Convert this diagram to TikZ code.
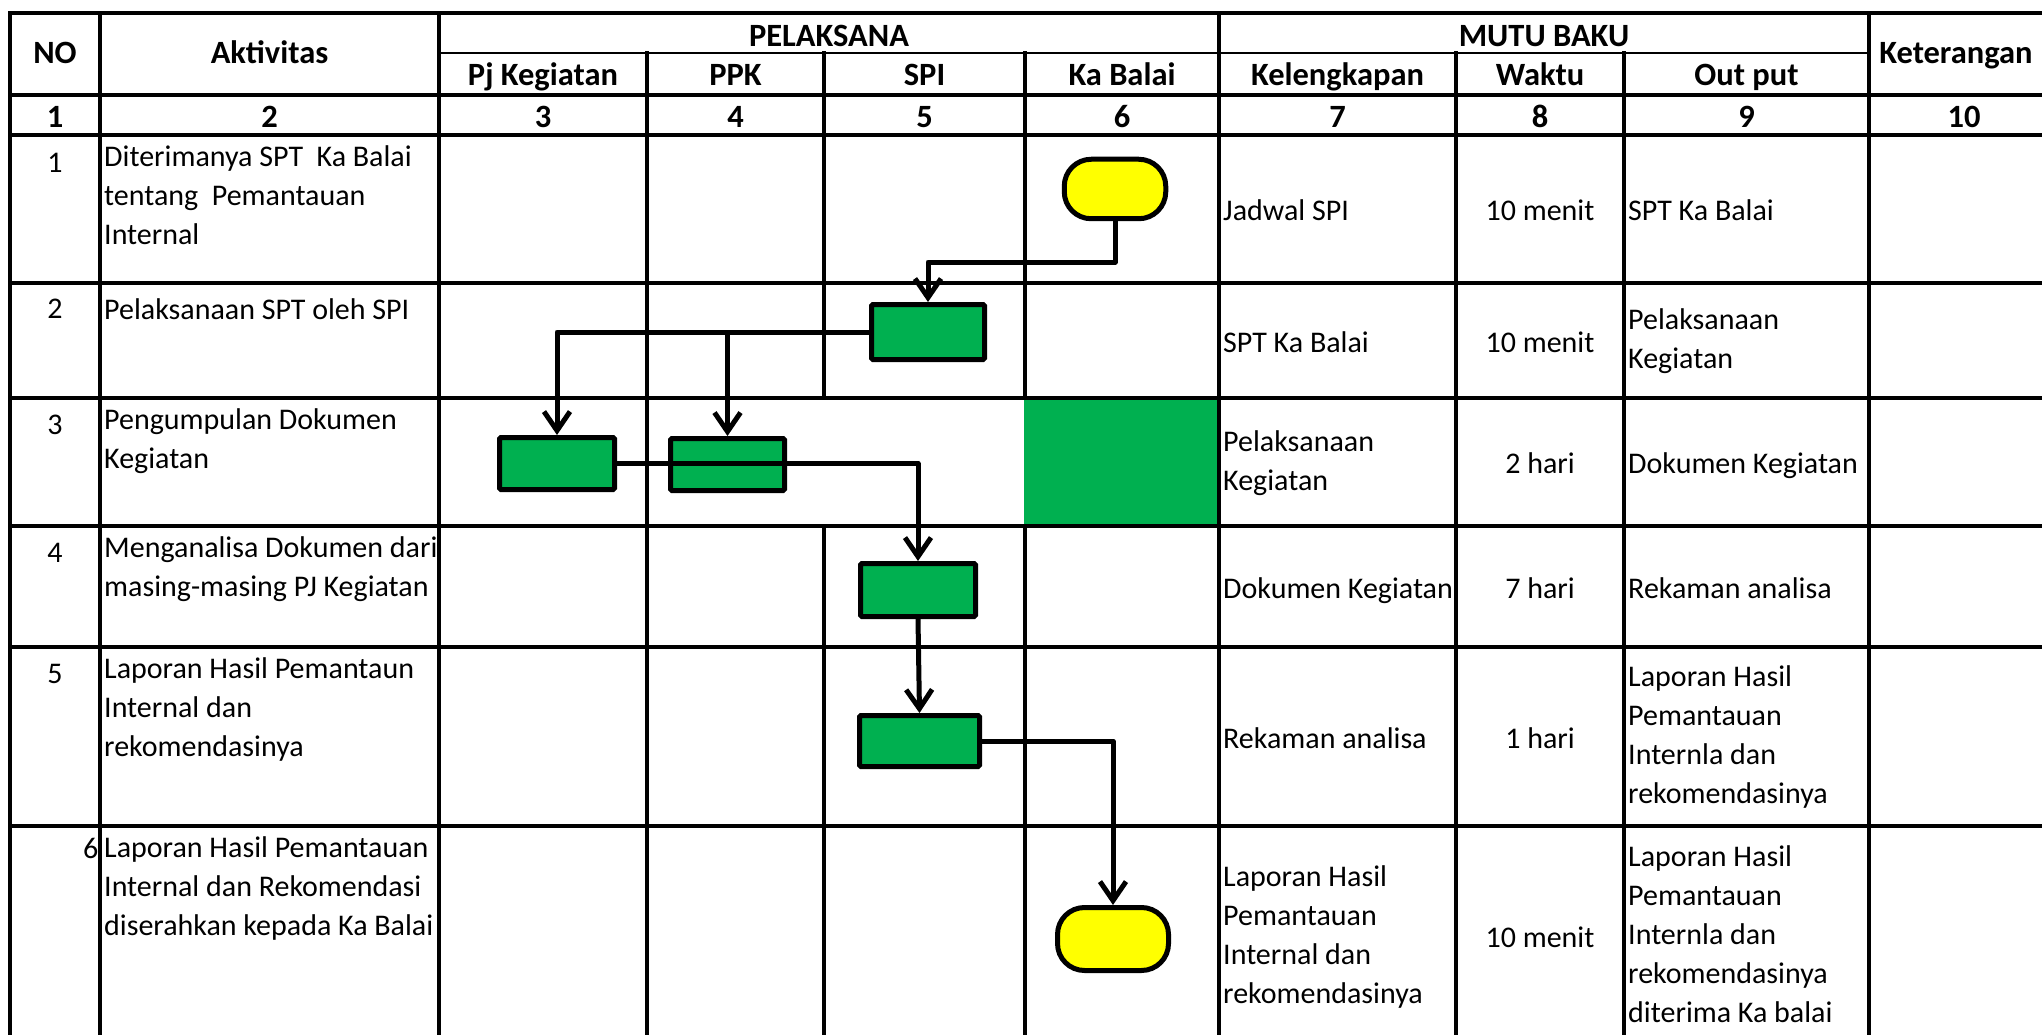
\documentclass[tikz,border=0pt]{standalone}
\usepackage{fontspec}
\setmainfont{Carlito}
\usetikzlibrary{arrows.meta}
\definecolor{xgreen}{HTML}{00B050}
\definecolor{xyellow}{HTML}{FFFF00}
\begin{document}
\begin{tikzpicture}[x=1pt,y=-1pt,
  celltxt/.style={inner sep=0pt, font=\fontsize{30}{39}\selectfont,
    execute at begin node=\strut, execute at end node=\strut},
  headtxt/.style={celltxt, font=\fontsize{32.5}{39}\selectfont\bfseries, anchor=center, align=center},
  celltop/.style={celltxt, anchor=north west, align=left},
  cellmid/.style={celltxt, anchor=west, align=left},
  cellctr/.style={celltxt, anchor=center, align=center},
  gridh/.style={line width=3.5pt, line cap=rect},
  gridv/.style={line width=3.2pt, line cap=rect},
  gbox/.style={draw, fill=xgreen, line width=5pt, rounded corners=1.5pt, inner sep=0pt},
  termbox/.style={draw, fill=xyellow, line width=5pt, rounded corners=27pt, inner sep=0pt},
  flowconn/.style={line width=5pt, line join=round, -{Straight Barb[length=19pt,width=26pt]}}
]
\useasboundingbox (0,0) rectangle (2042,1035);
\clip (0,0) rectangle (2042,1035);
\fill[white] (0,0) rectangle (2042,1035);
% green cell
\fill[xgreen] (1024,398) rectangle (1219,526);
% horizontal lines
\draw[gridh, line width=3.9pt] (10,13) -- (2060,13);
\draw[line width=2.4pt] (439,53) -- (1869,53);
\foreach \y in {95,135,283,398,526,647,826,1046}
  \draw[gridh] (10,\y) -- (2060,\y);
% vertical lines, full height
\draw[gridv, line width=3.8pt] (10,13) -- (10,1046);
\foreach \x in {100,439,1219,1869}
  \draw[gridv] (\x,13) -- (\x,1046);
% vertical lines below sub-header
\foreach \x in {647,1456,1624}
  \draw[gridv] (\x,53) -- (\x,1046);
\foreach \x in {824,1025}{
  \draw[gridv] (\x,53) -- (\x,398);
  \draw[gridv] (\x,526) -- (\x,1046);
}
% header texts
\node[headtxt] (hno) at (55,56) {NO};
\node[headtxt] (hakt) at (269.5,56) {Aktivitas};
\node[headtxt] (hpel) at (829,38.5) {PELAKSANA};
\node[headtxt] (hmutu) at (1544,38.5) {MUTU BAKU};
\node[headtxt] (hket) at (1956,56) {Keterangan};
\node[headtxt] (hpj) at (543,78) {Pj Kegiatan};
\node[headtxt] (hppk) at (735.5,78) {PPK};
\node[headtxt] (hspi) at (924.5,78) {SPI};
\node[headtxt] (hkab) at (1122,78) {Ka Balai};
\node[headtxt] (hkel) at (1337.5,78) {Kelengkapan};
\node[headtxt] (hwak) at (1540,78) {Waktu};
\node[headtxt] (hout) at (1746.5,78) {Out put};
% number row
\node[headtxt] (c1) at (55,120) {1};
\node[headtxt] (c2) at (269.5,120) {2};
\node[headtxt] (c3) at (543,120) {3};
\node[headtxt] (c4) at (735.5,120) {4};
\node[headtxt] (c5) at (924.5,120) {5};
\node[headtxt] (c6) at (1122,120) {6};
\node[headtxt] (c7) at (1337.5,120) {7};
\node[headtxt] (c8) at (1540,120) {8};
\node[headtxt] (c9) at (1746.5,120) {9};
\node[headtxt] (c10) at (1964,120) {10};
% row 1
\node[cellctr] (n1) at (55,165) {1};
\node[celltop] (a1) at (104,145) {Diterimanya SPT~ Ka Balai\\tentang~ Pemantauan\\Internal};
\node[cellmid] (k1) at (1223,213) {Jadwal SPI};
\node[cellctr] (w1) at (1540,213) {10 menit};
\node[cellmid] (o1) at (1628,213) {SPT Ka Balai};
% row 2
\node[cellctr] (n2) at (55,311) {2};
\node[celltop] (a2) at (104,292) {Pelaksanaan SPT oleh SPI};
\node[cellmid] (k2) at (1223,344.5) {SPT Ka Balai};
\node[cellctr] (w2) at (1540,344.5) {10 menit};
\node[cellmid] (o2) at (1628,344.5) {Pelaksanaan\\Kegiatan};
% row 3
\node[cellctr] (n3) at (55,427) {3};
\node[celltop] (a3) at (104,408) {Pengumpulan Dokumen\\Kegiatan};
\node[cellmid] (k3) at (1223,466) {Pelaksanaan\\Kegiatan};
\node[cellctr] (w3) at (1540,466) {2 hari};
\node[cellmid] (o3) at (1628,466) {Dokumen Kegiatan};
% row 4
\node[cellctr] (n4) at (55,555) {4};
\node[celltop] (a4) at (104,536) {Menganalisa Dokumen dari\\masing-masing PJ Kegiatan};
\node[cellmid] (k4) at (1223,590.5) {Dokumen Kegiatan};
\node[cellctr] (w4) at (1540,590.5) {7 hari};
\node[cellmid] (o4) at (1628,590.5) {Rekaman analisa};
% row 5
\node[cellctr] (n5) at (55,676) {5};
\node[celltop] (a5) at (104,657) {Laporan Hasil Pemantaun\\Internal dan\\rekomendasinya};
\node[cellmid] (k5) at (1223,740.5) {Rekaman analisa};
\node[cellctr] (w5) at (1540,740.5) {1 hari};
\node[cellmid] (o5) at (1628,740.5) {Laporan Hasil\\Pemantauan\\Internla dan\\rekomendasinya};
% row 6
\node[celltxt, anchor=east] (n6) at (98.5,851) {6};
\node[celltop] (a6) at (104,836) {Laporan Hasil Pemantauan\\Internal dan Rekomendasi\\diserahkan kepada Ka Balai};
\node[cellmid] (k6) at (1223,940) {Laporan Hasil\\Pemantauan\\Internal dan\\rekomendasinya};
\node[cellctr] (w6) at (1540,940) {10 menit};
\node[cellmid] (o6) at (1628,940) {Laporan Hasil\\Pemantauan\\Internla dan\\rekomendasinya\\diterima Ka balai};
% flow shapes
\node[termbox, minimum width=101.5pt, minimum height=59.5pt] (t1) at (1115,189) {};
\node[gbox, minimum width=113pt, minimum height=55pt] (ba) at (928,332) {};
\node[gbox, minimum width=115pt, minimum height=52pt] (bb) at (557,463.5) {};
\node[gbox, minimum width=114pt, minimum height=52pt] (bc) at (727.5,464.5) {};
\node[gbox, minimum width=115pt, minimum height=53pt] (bd) at (918,590) {};
\node[gbox, minimum width=120pt, minimum height=51pt] (be) at (919.5,741) {};
\node[termbox, minimum width=111pt, minimum height=63pt] (t2) at (1113,939) {};
% connectors
\coordinate (j1) at (928,262);
\draw[flowconn] (t1.south) |- (j1) -- (ba.north);
\draw[flowconn] (ba.west) -| (bb.north);
\draw[flowconn] (ba.west -| bc.north) -- (bc.north);
\draw[flowconn] (bb.east) -| (bd.north);
\draw[flowconn] (bd.south) -- (be.north);
\draw[flowconn] (be.east) -| (t2.north);
\end{tikzpicture}
\end{document}
